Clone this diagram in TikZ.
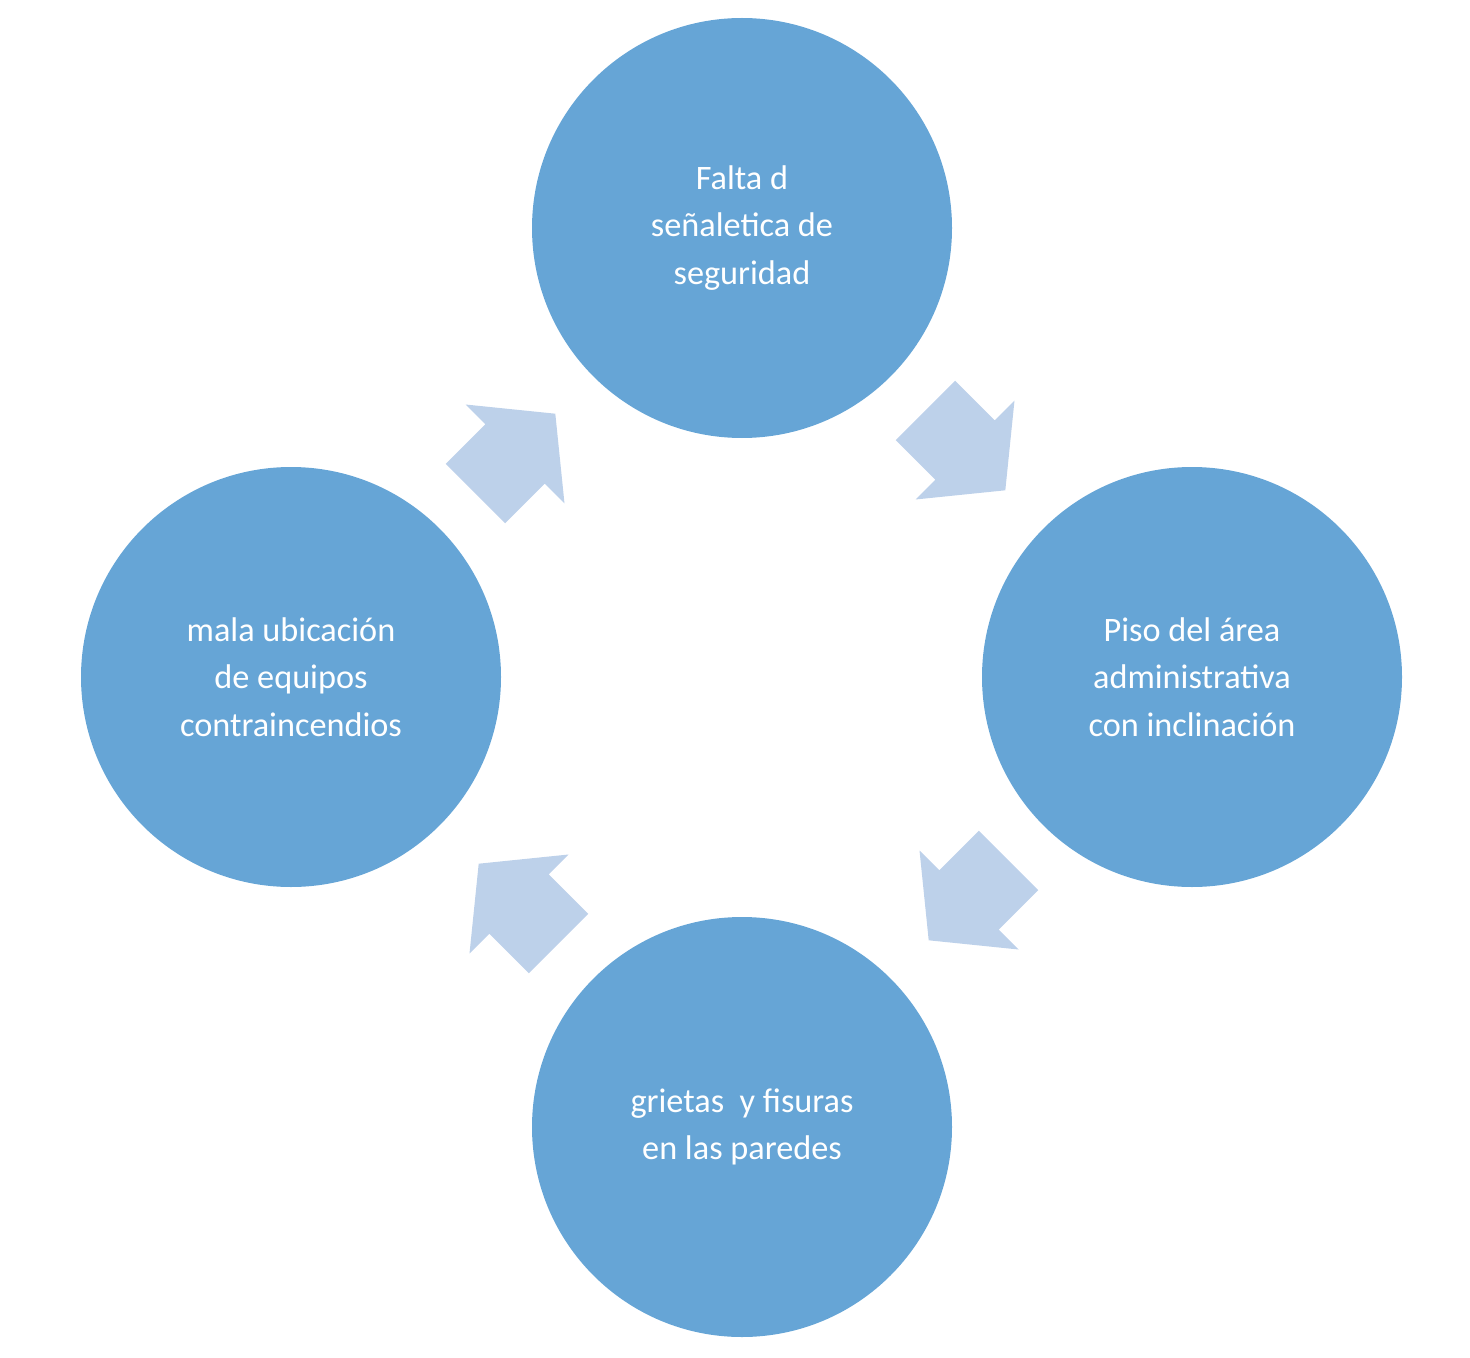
\documentclass[tikz,border=0pt]{standalone}
\usepackage{fontspec}
\setmainfont{Carlito}
\begin{document}
\begin{tikzpicture}[x=0.02cm,y=-0.02cm,
  circ/.style={circle,fill=cblue,draw=none,minimum size=420*0.02cm,inner sep=0pt,
    text=white,align=center,font=\fontsize{19.5}{27}\selectfont},
  arr/.style={fill=ablue,draw=none}]
\definecolor{cblue}{RGB}{102,165,214}
\definecolor{ablue}{RGB}{189,209,234}
\useasboundingbox (0,0) rectangle (1470,1358);
\node[circ] (top) at (742,228) {Falta d\\señaletica de\\seguridad};
\node[circ] (right) at (1192,677) {Piso del área\\administrativa\\con inclinación};
\node[circ] (bottom) at (742,1127) {grietas\ \ y fisuras\\en las paredes};
\node[circ] (left) at (291,677) {mala ubicación\\de equipos\\contraincendios};
\foreach \p/\r in {{(965,450)}/-45,{(969,900)}/-135,{(519,904)}/135,{(515,454)}/45}{
  \fill[arr,shift={\p},rotate=\r,y=0.02cm]
    (-56,-42) -- (0,-42) -- (0,-70) -- (57,0) -- (0,70) -- (0,42) -- (-56,42) -- cycle;
}
\end{tikzpicture}
\end{document}
